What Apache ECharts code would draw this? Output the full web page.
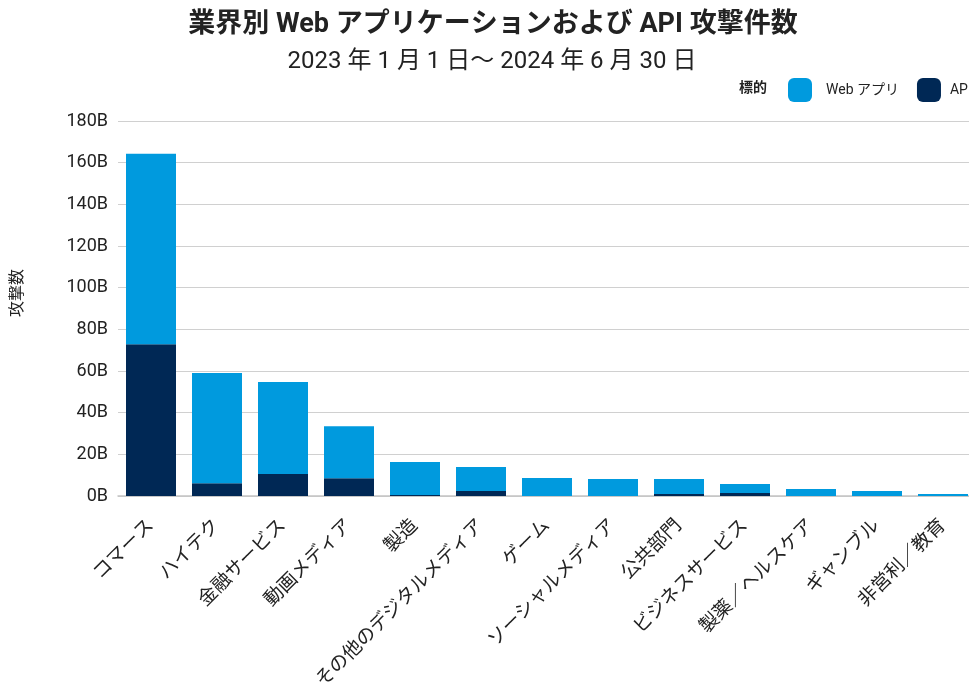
<!DOCTYPE html>
<html>
<head>
<meta charset="utf-8">
<script src="https://cdn.jsdelivr.net/npm/echarts@6/dist/echarts.min.js"></script>
<style>
  html, body { margin: 0; padding: 0; background: #fff; }
  #chart { width: 969px; height: 686px; }
</style>
</head>
<body>
<div id="chart"></div>
<script>
// Industry categories (x axis)
const categories = [
  'コマース', 'ハイテク', '金融サービス', '動画メディア', '製造',
  'その他のデジタルメディア', 'ゲーム', 'ソーシャルメディア', '公共部門',
  'ビジネスサービス', '製薬／ヘルスケア', 'ギャンブル', '非営利／教育'
];

// Attack counts in billions, by target
const apiAttacks = [72.9, 6.1, 10.6, 8.5, 0.5, 2.4, 0, 0, 1.0, 1.4, 0, 0, 0];
const webAttacks = [91.4, 52.9, 44.1, 25.0, 15.8, 11.5, 8.6, 8.2, 7.2, 4.4, 3.4, 2.4, 1.0];

// Y axis ticks
const yMin = 0;
const yMax = 180;
const yStep = 20;

const FONT = "Roboto, 'Noto Sans CJK JP', sans-serif";
const WEB_COLOR = '#009ADE';
const API_COLOR = '#002855';

const chart = echarts.init(document.getElementById('chart'), null, { renderer: 'canvas' });

chart.setOption({
  animation: false,
  backgroundColor: '#ffffff',
  textStyle: { fontFamily: FONT },
  title: [
    {
      text: '業界別 Web アプリケーションおよび API 攻撃件数',
      left: 488, top: 7, textAlign: 'center',
      textStyle: { fontFamily: FONT, fontSize: 27, fontWeight: 'bold', color: '#222' }
    },
    {
      text: '2023 年 1 月 1 日～ 2024 年 6 月 30 日',
      left: 487, top: 45, textAlign: 'center',
      textStyle: { fontFamily: FONT, fontSize: 24, fontWeight: 'normal', color: '#222' }
    }
  ],
  graphic: [
    {
      type: 'text', left: 739, top: 82,
      style: { text: '標的', font: "bold 14px " + FONT, fill: '#222' }
    },
    {
      type: 'text', x: 18, y: 293, rotation: Math.PI / 2,
      style: {
        text: '攻撃数', font: "16px " + FONT, fill: '#222',
        align: 'center', verticalAlign: 'middle'
      }
    }
  ],
  legend: {
    data: [
      { name: 'Web アプリ' },
      { name: 'API', textStyle: { padding: [0, 0, 0, 4] } }
    ],
    left: 783, top: 73, width: 400,
    orient: 'horizontal',
    itemWidth: 24, itemHeight: 24, itemGap: 18,
    icon: 'roundRect',
    textStyle: { fontFamily: FONT, fontSize: 14, color: '#222', padding: [0, 0, 0, 9] }
  },
  grid: {
    left: 118, top: 121, width: 858, bottom: 190,
    containLabel: false, outerBoundsMode: 'none'
  },
  xAxis: {
    type: 'category',
    data: categories,
    axisTick: { show: false },
    axisLine: { show: true, lineStyle: { color: '#c4c4c4', width: 1.5 } },
    axisLabel: {
      interval: 0, rotate: 45, margin: 27,
      fontFamily: FONT, fontSize: 19, color: '#222'
    }
  },
  yAxis: {
    type: 'value',
    min: yMin, max: yMax, interval: yStep,
    axisLine: { show: false },
    axisTick: { show: false },
    axisLabel: { formatter: '{value}B', fontFamily: FONT, fontSize: 18, color: '#222', margin: 10 },
    splitLine: { lineStyle: { color: '#d0d0d0', width: 1 } }
  },
  series: [
    {
      name: 'API', type: 'bar', stack: 'total', data: apiAttacks,
      barWidth: 50, itemStyle: { color: API_COLOR }
    },
    {
      name: 'Web アプリ', type: 'bar', stack: 'total', data: webAttacks,
      barWidth: 50, itemStyle: { color: WEB_COLOR }
    }
  ]
});
</script>
</body>
</html>
